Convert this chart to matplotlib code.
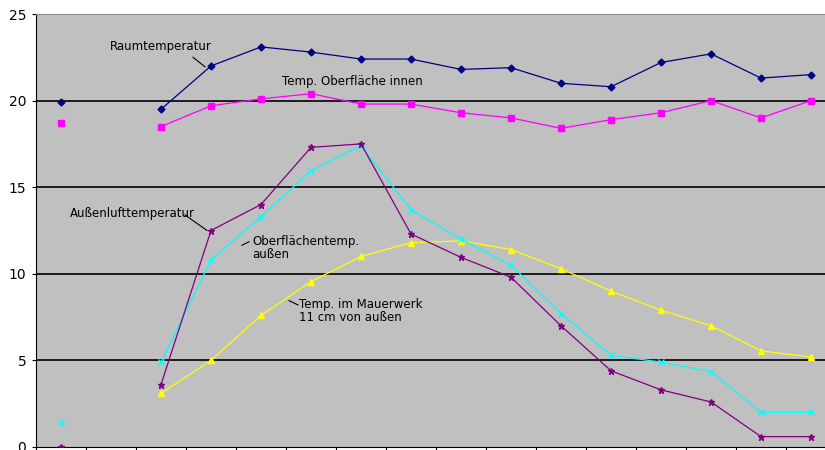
import numpy as np
from matplotlib import pyplot as plt

nan = np.nan
# 16 measurement slots, slot 1 has no readings
raum = [19.9, nan, 19.5, 22.0, 23.1, 22.8, 22.4, 22.4, 21.8, 21.9,
        21.0, 20.8, 22.2, 22.7, 21.3, 21.5]
ofl_innen = [18.7, nan, 18.5, 19.7, 20.1, 20.4, 19.8, 19.8, 19.3, 19.0,
             18.4, 18.9, 19.3, 20.0, 19.0, 20.0]
mauerwerk = [nan, nan, 3.1, 5.0, 7.6, 9.55, 11.0, 11.8, 11.9, 11.4,
             10.3, 9.0, 7.9, 7.0, 5.55, 5.2]
ofl_aussen = [1.4, nan, 4.9, 10.8, 13.3, 15.95, 17.4, 13.7, 12.0, 10.5,
              7.7, 5.3, 4.9, 4.35, 2.0, 2.0]
aussenluft = [0.0, nan, 3.6, 12.5, 14.0, 17.3, 17.5, 12.3, 10.95, 9.8,
              7.0, 4.4, 3.3, 2.6, 0.6, 0.6]

x = np.arange(len(raum))

fig = plt.figure(figsize=(8.25, 4.5), dpi=100)
ax = fig.add_axes([36 / 825, 3 / 450, 800 / 825, 433 / 450])
ax.set_facecolor('#c0c0c0')

series = [
    (raum, '#000080', 'D', 3.5),
    (ofl_innen, '#ff00ff', 's', 4.5),
    (mauerwerk, '#ffff00', '^', 4.5),
    (ofl_aussen, '#00ffff', 'x', 4.5),
    (aussenluft, '#800080', '*', 5),
]
for vals, col, mk, ms in series:
    ax.plot(x, vals, color=col, marker=mk, markersize=ms, lw=0.9,
            markeredgecolor=col, markerfacecolor=col, zorder=3)

ax.set_xlim(-0.5, 15.5)
ax.set_ylim(0, 25)
ax.set_yticks([0, 5, 10, 15, 20, 25])
ax.set_xticks(np.arange(-0.5, 16, 1))
ax.set_xticklabels([])
ax.tick_params(axis='y', direction='out', length=3, labelsize=10, pad=4)
ax.tick_params(axis='x', direction='out', length=4)
for v in [5, 10, 15, 20]:
    ax.axhline(v, color='black', lw=1.2, zorder=1)

ax.spines['top'].set_color('#909090')
ax.spines['right'].set_visible(False)
ax.spines['left'].set_color('black')
ax.spines['bottom'].set_color('black')

fs = 8.5
ax.text(2.0, 23.15, 'Raumtemperatur', fontsize=fs, ha='center', va='center')
ax.plot([2.64, 2.88], [22.5, 21.95], color='black', lw=0.8)
ax.text(5.82, 21.1, 'Temp. Oberfläche innen', fontsize=fs, ha='center', va='center')
ax.text(1.42, 13.5, 'Außenlufttemperatur', fontsize=fs, ha='center', va='center')
ax.plot([2.48, 2.92], [13.4, 12.5], color='black', lw=0.8)
ax.text(3.82, 11.5, 'Oberflächentemp.\naußen', fontsize=fs, ha='left', va='center',
        linespacing=1.0)
ax.plot([3.76, 3.62], [11.85, 11.65], color='black', lw=0.8)
ax.text(4.76, 7.85, 'Temp. im Mauerwerk\n11 cm von außen', fontsize=fs,
        ha='left', va='center', linespacing=1.0)
ax.plot([4.74, 4.56], [8.2, 8.45], color='black', lw=0.8)

fig.savefig('out.png', dpi=100)
